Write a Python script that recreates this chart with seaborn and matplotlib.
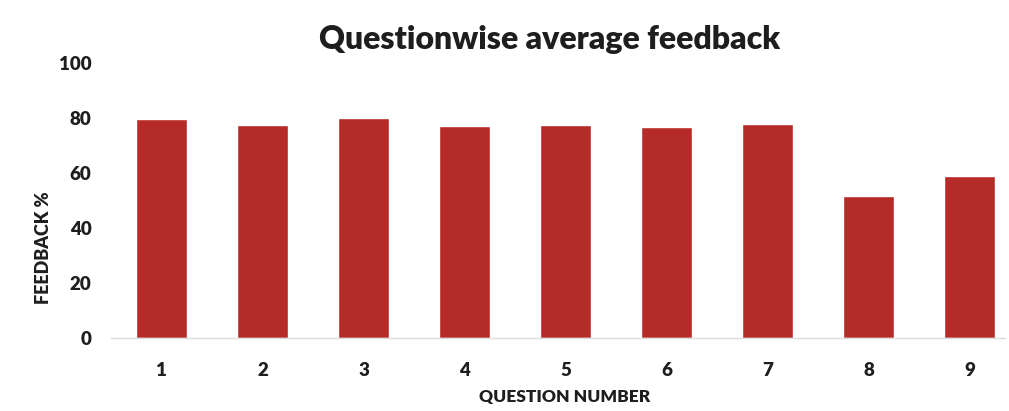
import pandas as pd
import matplotlib
matplotlib.use('Agg')
import matplotlib.pyplot as plt
import seaborn as sns

# values
questions = ['1', '2', '3', '4', '5', '6', '7', '8', '9']
feedback = [79.6, 77.4, 80.0, 77.1, 77.6, 76.8, 77.9, 51.7, 58.9]
yticks = [0, 20, 40, 60, 80, 100]

bar_color = '#B52B27'
text_color = '#1e1e1e'

sns.set_theme(style='white')
plt.rcParams['font.family'] = ['Lato', 'DejaVu Sans']

df = pd.DataFrame({'question': questions, 'feedback': feedback})

fig = plt.figure(figsize=(10.09, 4.11), dpi=100)
ax = fig.add_axes([111 / 1009, 73 / 411, (1005 - 111) / 1009, 275 / 411])

sns.barplot(data=df, x='question', y='feedback', color=bar_color,
            saturation=1, width=0.51, ax=ax)

ax.set_ylim(0, 100)
ax.set_xlim(-0.5, 8.35)
ax.set_yticks(yticks)
ax.set_yticklabels([str(t) for t in yticks], fontsize=13.5, fontweight='heavy', color=text_color)
for lbl in ax.get_xticklabels():
    lbl.set_fontsize(13.5)
    lbl.set_fontweight('heavy')
    lbl.set_color(text_color)
ax.tick_params(axis='both', length=0)
ax.tick_params(axis='x', pad=17)
ax.tick_params(axis='y', pad=14)

for side in ['top', 'right', 'left']:
    ax.spines[side].set_visible(False)
ax.spines['bottom'].set_color('#dddddd')
ax.spines['bottom'].set_linewidth(1)

ax.set_xlabel('QUESTION NUMBER', fontsize=12.5, fontweight='heavy', color=text_color)
ax.set_ylabel('FEEDBACK %', fontsize=13, fontweight='heavy', color=text_color)
ax.xaxis.set_label_coords((565 - 111) / 894, -51 / 275)
ax.yaxis.set_label_coords(-59 / 894, 0.327)

fig.text(550 / 1009, 1 - 40 / 411, 'Questionwise average feedback', ha='center', va='center',
         fontsize=23, fontweight='heavy', color=text_color)

fig.savefig('out.png', dpi=100, facecolor='white')
